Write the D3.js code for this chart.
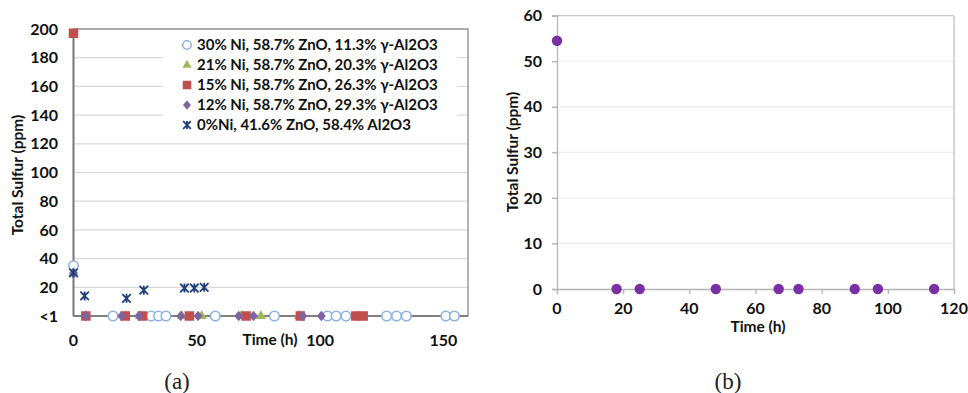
<!DOCTYPE html>
<html><head><meta charset="utf-8">
<script src="https://cdn.jsdelivr.net/npm/d3@7"></script>
<style>
html,body{margin:0;padding:0;background:#fff;}
svg{display:block;font-family:Lato,"Liberation Sans",Arial,sans-serif;}
</style></head>
<body><svg id="c" width="968" height="393"></svg>
<script>
// ---------- DATA (panel a) ----------
const legendLabels = [
  "30% Ni, 58.7% ZnO, 11.3% γ-Al2O3",
  "21% Ni, 58.7% ZnO, 20.3% γ-Al2O3",
  "15% Ni, 58.7% ZnO, 26.3% γ-Al2O3",
  "12% Ni, 58.7% ZnO, 29.3% γ-Al2O3",
  "0%Ni, 41.6% ZnO, 58.4% Al2O3"
];
const ni30Time  = [0, 16, 31.5, 34.5, 37.5, 57.5, 81.5, 103, 106.5, 110.5, 127, 131, 135, 151, 154.5];
const ni30Sulf  = [35, 0, 0, 0, 0, 0, 0, 0, 0, 0, 0, 0, 0, 0, 0];
const ni21Time  = [0, 5, 21, 27, 44, 52, 68, 76, 91.5];
const ni21Sulf  = [30, 0, 0, 0, 0, 0, 0, 0, 0];
const ni15Time  = [0, 5, 21, 28, 47, 70, 92, 114.5, 117.5];
const ni15Sulf  = [197, 0, 0, 0, 0, 0, 0, 0, 0];
const ni12Time  = [0, 5, 19.5, 26.5, 43.5, 50.5, 67, 73, 93, 100.5];
const ni12Sulf  = [30, 0, 0, 0, 0, 0, 0, 0, 0, 0];
const ni0Time   = [0, 4.5, 21.5, 28.5, 45, 49, 53];
const ni0Sulf   = [30, 14, 12.3, 18, 19.5, 19.5, 20];
const yTicksA   = [0, 20, 40, 60, 80, 100, 120, 140, 160, 180, 200];
const yTickLabelsA = ["<1", "20", "40", "60", "80", "100", "120", "140", "160", "180", "200"];
const xTicksA   = [0, 50, 100, 150];

// ---------- DATA (panel b) ----------
const bTime = [0, 18, 25, 48, 67, 73, 90, 97, 114];
const bSulf = [54.5, 0, 0, 0, 0, 0, 0, 0, 0];
const yTicksB = [0, 10, 20, 30, 40, 50, 60];
const xTicksB = [0, 20, 40, 60, 80, 100, 120];

const svg = d3.select("#c");

// ================= PANEL A =================
const xA = d3.scaleLinear().domain([0, 160]).range([73.5, 468]);
const yA = d3.scaleLinear().domain([0, 200]).range([316, 29]);
const gA = svg.append("g");

gA.append("g").selectAll("line").data(yTicksA.filter(d => d > 0)).join("line")
  .attr("x1", xA(0)).attr("x2", xA(160))
  .attr("y1", d => yA(d)).attr("y2", d => yA(d))
  .attr("stroke", "#d9d9d9").attr("stroke-width", 1.2);

const legX = 163, legY = 32;
gA.append("rect").attr("x", legX).attr("y", legY).attr("width", 294).attr("height", 104).attr("fill", "#fff");

gA.append("rect").attr("x", xA(0)).attr("y", yA(200)).attr("width", xA(160) - xA(0)).attr("height", yA(0) - yA(200))
  .attr("fill", "none").attr("stroke", "#8a8a8a").attr("stroke-width", 1.3);
gA.append("line").attr("x1", xA(0)).attr("x2", xA(160)).attr("y1", yA(0)).attr("y2", yA(0))
  .attr("stroke", "#7f7f7f").attr("stroke-width", 2);
gA.append("line").attr("x1", xA(0)).attr("x2", xA(0)).attr("y1", yA(0)).attr("y2", yA(200))
  .attr("stroke", "#7f7f7f").attr("stroke-width", 2);

gA.append("g").selectAll("text").data(yTicksA).join("text")
  .attr("x", 58).attr("y", d => yA(d)).attr("dy", "0.35em")
  .attr("text-anchor", "end").attr("font-weight", 700).attr("font-size", 16).attr("fill", "#111")
  .text((d, i) => yTickLabelsA[i]);
gA.append("g").selectAll("text").data(xTicksA).join("text")
  .attr("x", d => xA(d)).attr("y", 340).attr("dy", "0.35em")
  .attr("text-anchor", "middle").attr("font-weight", 700).attr("font-size", 16).attr("fill", "#111")
  .text(d => d);
gA.append("text").attr("x", 270).attr("y", 340).attr("dy", "0.35em").attr("text-anchor", "middle")
  .attr("font-weight", 700).attr("font-size", 15.5).attr("fill", "#111").text("Time (h)");
gA.append("text").attr("transform", "translate(18,175) rotate(-90)").attr("dy", "0.35em").attr("text-anchor", "middle")
  .attr("font-weight", 700).attr("font-size", 15.5).attr("fill", "#111").text("Total Sulfur (ppm)");

const colors = ["#8db3e2", "#9bbb59", "#c0504d", "#8064a2", "#1f3f7a"];
function drawMarker(sel, type, s) {
  if (type === 0) {
    sel.append("circle").attr("r", s * 0.5).attr("fill", "#fff").attr("stroke", colors[0]).attr("stroke-width", 1.6);
  } else if (type === 1) {
    sel.append("path").attr("d", d3.symbol(d3.symbolTriangle, s * s * 0.5)()).attr("fill", colors[1]);
  } else if (type === 2) {
    sel.append("rect").attr("x", -s / 2).attr("y", -s / 2).attr("width", s).attr("height", s).attr("fill", colors[2]);
  } else if (type === 3) {
    const h = s * 0.55;
    sel.append("path").attr("d", `M0,${-h}L${h * 0.85},0L0,${h}L${-h * 0.85},0Z`).attr("fill", colors[3]);
  } else {
    const h = s * 0.45;
    sel.append("path").attr("d", `M${-h},${-h}L${h},${h}M${h},${-h}L${-h},${h}M0,${-h * 1.05}L0,${h * 1.05}`)
      .attr("stroke", colors[4]).attr("stroke-width", 1.8).attr("fill", "none");
  }
}

const seriesA = [
  { t: ni30Time, v: ni30Sulf },
  { t: ni21Time, v: ni21Sulf },
  { t: ni15Time, v: ni15Sulf },
  { t: ni12Time, v: ni12Sulf },
  { t: ni0Time,  v: ni0Sulf }
];
seriesA.forEach((s, k) => {
  const pts = s.t.map((t, i) => [t, s.v[i]]);
  gA.append("g").selectAll("g").data(pts).join("g")
    .attr("transform", d => `translate(${xA(d[0])},${yA(d[1])})`)
    .each(function () { drawMarker(d3.select(this), k, 9.5); });
});

const leg = gA.append("g");
legendLabels.forEach((lab, i) => {
  const cy = 45 + i * 20;
  const m = leg.append("g").attr("transform", `translate(187,${cy})`);
  drawMarker(m, i, 8.5);
  leg.append("text").attr("x", 197).attr("y", cy).attr("dy", "0.36em")
    .attr("font-weight", 700).attr("font-size", 15).attr("fill", "#111").text(lab);
});

// ================= PANEL B =================
const xB = d3.scaleLinear().domain([0, 120]).range([557, 954]);
const yB = d3.scaleLinear().domain([0, 60]).range([289, 15.7]);
const gB = svg.append("g");

gB.append("g").selectAll("line").data(yTicksB.filter(d => d > 0)).join("line")
  .attr("x1", xB(0) - 5).attr("x2", xB(120))
  .attr("y1", d => yB(d)).attr("y2", d => yB(d))
  .attr("stroke", d => d === 60 ? "#c8c8c8" : "#ececec").attr("stroke-width", 1.2);
gB.append("line").attr("x1", xB(120)).attr("x2", xB(120)).attr("y1", yB(60)).attr("y2", yB(0))
  .attr("stroke", "#bdbdbd").attr("stroke-width", 1.2);

const axL = d3.axisLeft(yB).tickValues(yTicksB).tickSize(5).tickFormat("");
gB.append("g").attr("transform", `translate(${xB(0)},0)`).call(axL)
  .call(g => g.selectAll("line,path").attr("stroke", "#b5b5b5").attr("stroke-width", 1.3));
const axBt = d3.axisBottom(xB).tickValues(xTicksB).tickSize(5).tickFormat("");
gB.append("g").attr("transform", `translate(0,${yB(0)})`).call(axBt)
  .call(g => g.selectAll("line,path").attr("stroke", "#b5b5b5").attr("stroke-width", 1.3));

gB.append("g").selectAll("text").data(yTicksB).join("text")
  .attr("x", 542).attr("y", d => yB(d)).attr("dy", "0.35em")
  .attr("text-anchor", "end").attr("font-weight", 700).attr("font-size", 16).attr("fill", "#111").text(d => d);
gB.append("g").selectAll("text").data(xTicksB).join("text")
  .attr("x", d => xB(d)).attr("y", 308).attr("dy", "0.35em")
  .attr("text-anchor", "middle").attr("font-weight", 700).attr("font-size", 16).attr("fill", "#111").text(d => d);
gB.append("text").attr("x", 758).attr("y", 327).attr("dy", "0.35em").attr("text-anchor", "middle")
  .attr("font-weight", 700).attr("font-size", 15.5).attr("fill", "#111").text("Time (h)");
gB.append("text").attr("transform", "translate(513,152) rotate(-90)").attr("dy", "0.35em").attr("text-anchor", "middle")
  .attr("font-weight", 700).attr("font-size", 15.5).attr("fill", "#111").text("Total Sulfur (ppm)");

gB.append("g").selectAll("circle").data(bTime.map((t, i) => [t, bSulf[i]])).join("circle")
  .attr("cx", d => xB(d[0])).attr("cy", d => yB(d[1])).attr("r", 5.2).attr("fill", "#7b2fa5");

svg.append("text").attr("x", 177).attr("y", 381).attr("dy", "0.35em").attr("text-anchor", "middle")
  .attr("font-family", "'Liberation Serif','Times New Roman',serif").attr("font-size", 23).attr("fill", "#222").text("(a)");
svg.append("text").attr("x", 728).attr("y", 381).attr("dy", "0.35em").attr("text-anchor", "middle")
  .attr("font-family", "'Liberation Serif','Times New Roman',serif").attr("font-size", 23).attr("fill", "#222").text("(b)");
</script></body></html>
